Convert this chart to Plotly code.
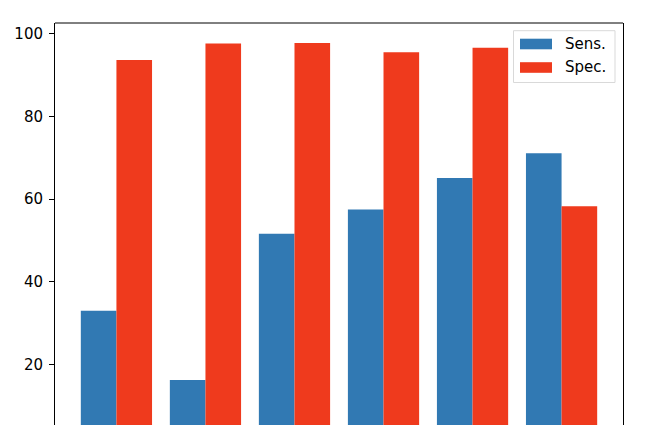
import plotly.graph_objects as go

groups = [0, 1, 2, 3, 4, 5]
sens = [33.0, 16.3, 51.6, 57.5, 65.1, 71.1]
spec = [93.6, 97.6, 97.7, 95.5, 96.6, 58.3]
series_names = ["Sens.", "Spec."]
y_ticks = [20, 40, 60, 80, 100]

blue = "#3179B3"
red = "#EF3A1D"

fig = go.Figure()
fig.add_trace(go.Bar(x=groups, y=sens, name=series_names[0], marker_color=blue,
                     marker_line_width=0, showlegend=False))
fig.add_trace(go.Bar(x=groups, y=spec, name=series_names[1], marker_color=red,
                     marker_line_width=0, showlegend=False))

font = dict(family="DejaVu Sans", size=15, color="#000000")

# page body has an 8px margin; plot area should cover viewport x 55..623, y 23..425
PL, PR, PT, PB = 55, 623, 23, 425
fig.update_layout(
    width=658, height=417,
    margin=dict(l=PL - 8, r=658 - (PR - 8), t=PT - 8, b=0, pad=0),
    paper_bgcolor="white", plot_bgcolor="white",
    barmode="group", bargap=0.2, bargroupgap=0,
    font=font,
    xaxis=dict(range=[-0.69, 5.69], showticklabels=False, ticks="",
               showgrid=False, zeroline=False, showline=False),
    yaxis=dict(range=[5.4, 102.56], tickvals=y_ticks, ticks="outside",
               ticklen=5, tickwidth=1, tickcolor="black",
               showgrid=False, zeroline=False, showline=True, linecolor="black",
               linewidth=1, mirror=True, tickfont=font, ticklabelstandoff=3),
)


def fx(vx):
    return (vx - PL) / (PR - PL)


def fy(vy):
    return 1 - (vy - PT) / (PB - PT)


# top spine
fig.add_shape(type="line", xref="paper", yref="paper", x0=0, x1=1, y0=1, y1=1,
              line=dict(color="black", width=1))

# custom legend (matplotlib style)
fig.add_shape(type="rect", xref="paper", yref="paper",
              x0=fx(513.5), x1=fx(615), y0=fy(82.5), y1=fy(30.7),
              line=dict(color="#d9d9d9", width=1), fillcolor="rgba(255,255,255,0.8)")
for i, (name, col) in enumerate(zip(series_names, [blue, red])):
    cy = 44 + i * 23.5
    fig.add_shape(type="rect", xref="paper", yref="paper",
                  x0=fx(520), x1=fx(552), y0=fy(cy + 5.3), y1=fy(cy - 5.3),
                  line=dict(width=0), fillcolor=col)
    fig.add_annotation(xref="paper", yref="paper", x=fx(563), y=fy(cy),
                       text=name, showarrow=False, xanchor="left",
                       yanchor="middle", font=font)

fig.write_html("out.html")
